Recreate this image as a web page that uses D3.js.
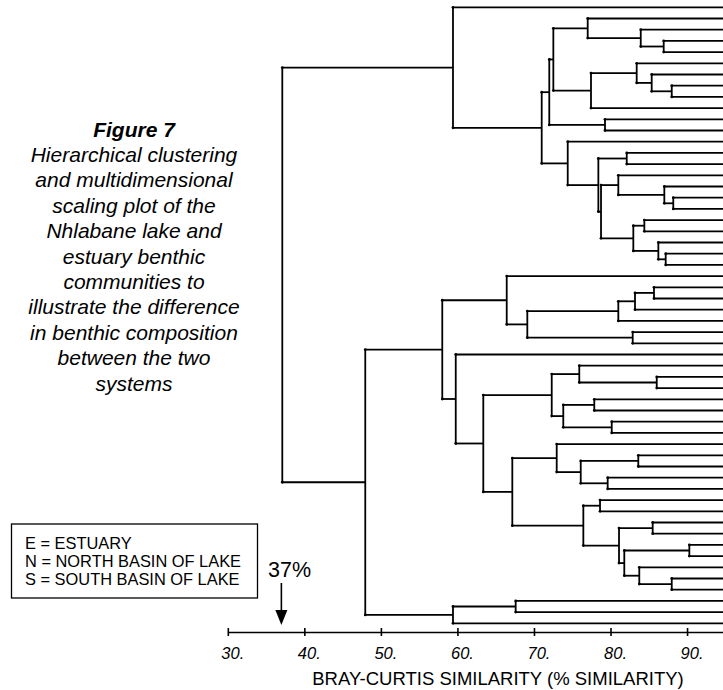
<!DOCTYPE html>
<html>
<head>
<meta charset="utf-8">
<script src="https://cdn.jsdelivr.net/npm/d3@7"></script>
<style>
  body { margin: 0; background: #fff; }
  svg { display: block; font-family: "Liberation Sans", Arial, sans-serif; }
</style>
</head>
<body>
<svg id="chart" width="723" height="690"></svg>
<script>
// ---- data ----
// 56 sampling sites (leaf order top to bottom); labels are cut off in the original
const leafIds = d3.range(56);

// merge table: [left, right, similarity %]; ids >= 56 refer to earlier merges (56 + row)
const merges = [
  [3, 4, 86.95], [2, 56, 83.95], [1, 57, 77.02], [7, 8, 88.0], [6, 59, 85.38],
  [5, 60, 83.42], [61, 9, 77.45], [58, 62, 72.53], [10, 11, 79.28], [63, 64, 72.0],
  [13, 14, 82.12], [17, 18, 88.2], [16, 67, 87.03], [15, 68, 81.02], [19, 20, 84.42],
  [22, 23, 87.21], [21, 71, 86.25], [70, 72, 82.98], [69, 73, 78.76], [66, 74, 78.41],
  [12, 75, 74.41], [65, 76, 71.01], [0, 77, 59.42],
  [25, 26, 85.68], [79, 27, 83.2], [80, 28, 81.02], [29, 30, 82.9], [81, 82, 69.13],
  [24, 83, 66.44], [33, 34, 86.04], [32, 85, 75.92], [35, 36, 77.88], [37, 38, 80.16],
  [87, 88, 73.83], [86, 89, 72.32], [40, 41, 83.63], [42, 43, 79.63], [91, 92, 76.11],
  [39, 93, 72.97], [44, 45, 78.63], [46, 47, 85.51], [48, 49, 90.3], [51, 52, 88.0],
  [50, 98, 83.76], [97, 99, 81.8], [96, 100, 81.11], [95, 101, 76.45], [94, 102, 67.17],
  [90, 103, 63.38], [31, 104, 59.78], [84, 105, 58.02], [53, 54, 67.61], [107, 55, 59.42],
  [106, 108, 47.96], [78, 109, 37.12]
];

const tickValues = [30, 40, 50, 60, 70, 80, 90];
const cutLevel = 37;
const axisTitle = "BRAY-CURTIS SIMILARITY (% SIMILARITY)";
const legendLines = ["E = ESTUARY", "N = NORTH BASIN OF LAKE", "S = SOUTH BASIN OF LAKE"];
const captionTitle = "Figure 7";
const captionLines = [
  "Hierarchical clustering", "and multidimensional", "scaling plot of the",
  "Nhlabane lake and", "estuary benthic", "communities to",
  "illustrate the difference", "in benthic composition", "between the two", "systems"
];

// ---- build tree ----
const items = leafIds.map(id => ({ id: id, sim: 100 }));
merges.forEach((m, i) => {
  items.push({ id: 56 + i, sim: m[2], children: [items[m[0]], items[m[1]]] });
});
const root = d3.hierarchy(items[items.length - 1]);

const svg = d3.select("#chart");

const x = d3.scaleLinear().domain([30, 100]).range([227.8, 763.6]);
const y = d3.scalePoint().domain(leafIds).range([7.3, 623.3]);

// leaves sit on the point scale, each merge halfway between its two children
root.eachAfter(n => {
  n.py = n.children ? d3.mean(n.children, c => c.py) : y(n.data.id);
});

// ---- dendrogram ----
const g = svg.append("g")
  .attr("fill", "none")
  .attr("stroke", "#000")
  .attr("stroke-width", 1.8);

root.descendants().filter(n => n.children).forEach(n => {
  const nx = x(n.data.sim);
  g.append("line")
    .attr("x1", nx).attr("x2", nx)
    .attr("y1", d3.min(n.children, c => c.py))
    .attr("y2", d3.max(n.children, c => c.py));
  n.children.forEach(c => {
    g.append("line")
      .attr("x1", nx).attr("x2", x(c.data.sim))
      .attr("y1", c.py).attr("y2", c.py);
    svg.append("circle")
      .attr("cx", nx).attr("cy", c.py).attr("r", 1.4)
      .attr("fill", "#000");
  });
});

// ---- axis ----
const axisY = 632;
const axis = svg.append("g")
  .attr("transform", `translate(0,${axisY})`)
  .call(d3.axisBottom(x).tickValues(tickValues).tickFormat(d => d + ".").tickSizeOuter(0));
axis.select(".domain").attr("stroke-width", 1.6);
axis.selectAll(".tick line").attr("y1", -4).attr("y2", 4).attr("stroke-width", 1.6);
axis.selectAll(".tick text")
  .attr("y", 15.5)
  .attr("dx", 4.5)
  .attr("font-size", 16.5)
  .attr("font-style", "italic")
  .attr("font-family", "Liberation Sans, Arial, sans-serif");

svg.append("text")
  .attr("x", 498).attr("y", 685)
  .attr("text-anchor", "middle")
  .attr("font-size", 18.5)
  .text(axisTitle);

// ---- 37% marker ----
const ax = x(cutLevel);
svg.append("text")
  .attr("x", 268).attr("y", 577)
  .attr("font-size", 21.5)
  .text(cutLevel + "%");
svg.append("line")
  .attr("x1", ax).attr("x2", ax).attr("y1", 583).attr("y2", 612)
  .attr("stroke", "#000").attr("stroke-width", 1.6);
svg.append("path")
  .attr("d", `M${ax - 6},610 L${ax + 6},610 L${ax},625 Z`)
  .attr("fill", "#000");

// ---- legend box ----
svg.append("rect")
  .attr("x", 11.5).attr("y", 524).attr("width", 246).attr("height", 74)
  .attr("fill", "none").attr("stroke", "#000").attr("stroke-width", 1.3);
svg.selectAll("text.legend")
  .data(legendLines)
  .enter().append("text")
  .attr("class", "legend")
  .attr("x", 25)
  .attr("y", (d, i) => 548.5 + i * 18.3)
  .attr("font-size", 16.4)
  .text(d => d);

// ---- caption ----
svg.append("text")
  .attr("x", 134).attr("y", 137)
  .attr("text-anchor", "middle")
  .attr("font-size", 21)
  .attr("font-weight", "bold")
  .attr("font-style", "italic")
  .text(captionTitle);
svg.selectAll("text.caption")
  .data(captionLines)
  .enter().append("text")
  .attr("class", "caption")
  .attr("x", 134)
  .attr("y", (d, i) => 162 + i * 25.4)
  .attr("text-anchor", "middle")
  .attr("font-size", 21)
  .attr("font-style", "italic")
  .text(d => d);
</script>
</body>
</html>
